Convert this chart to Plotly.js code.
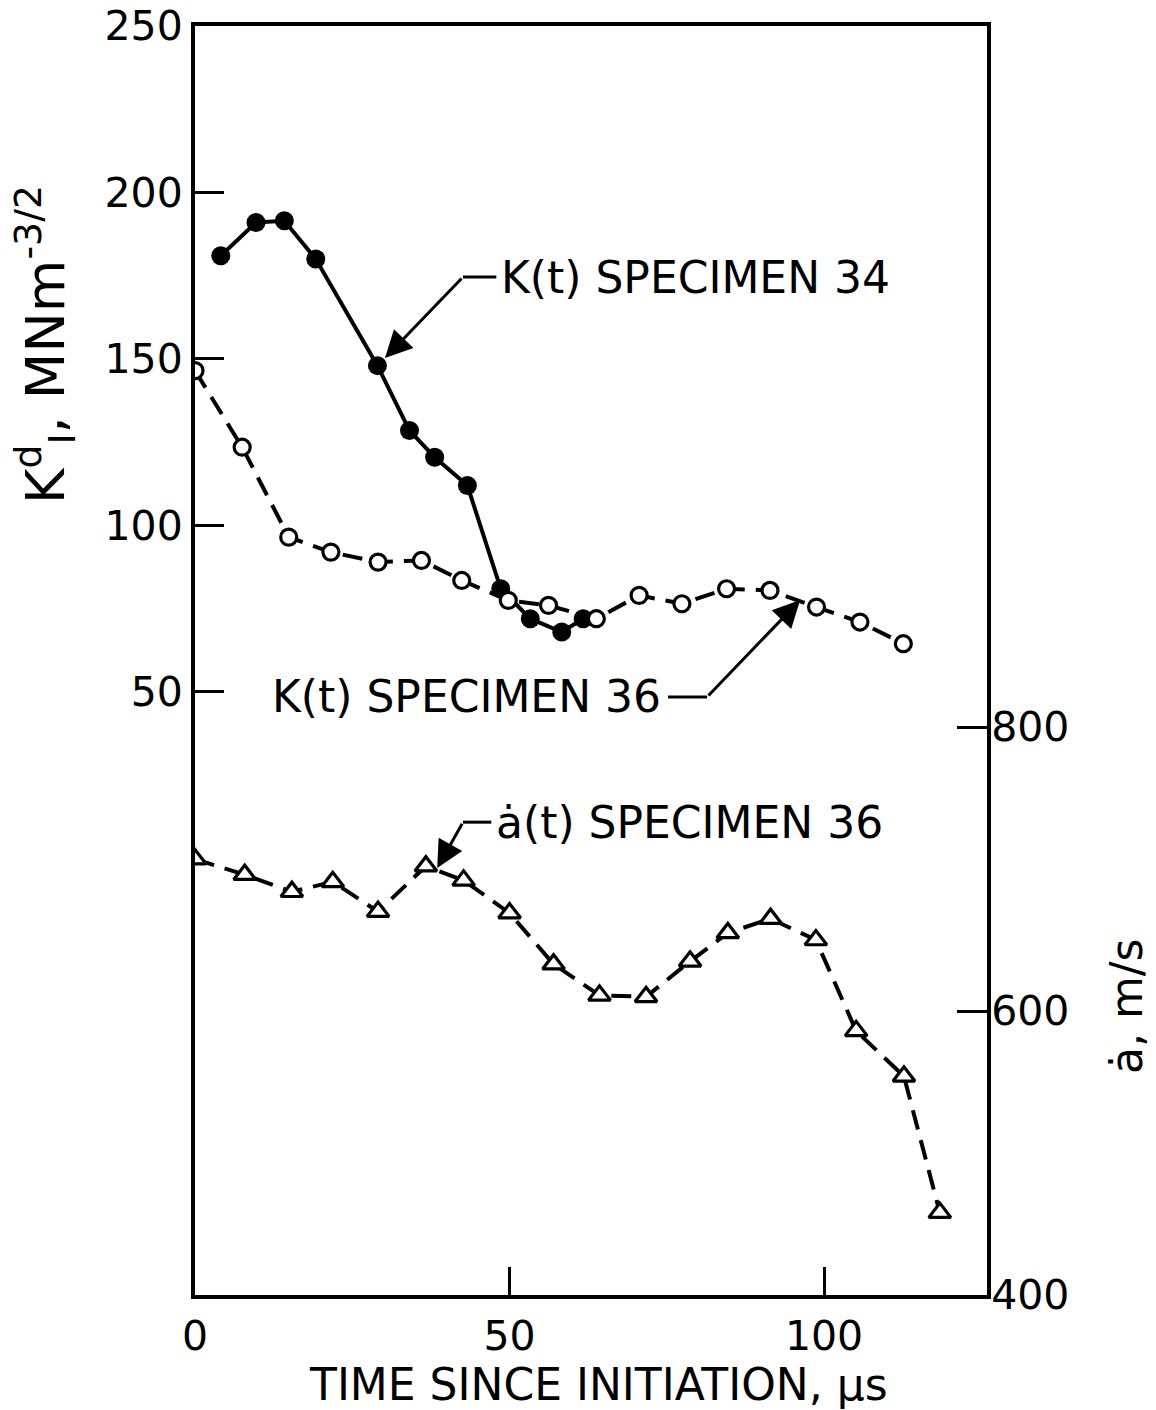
<!DOCTYPE html>
<html>
<head>
<meta charset="utf-8">
<script src="https://cdn.plot.ly/plotly-3.0.1.min.js"></script>
<style>
  html, body { margin: 0; padding: 0; background: #ffffff; }
  #chart { width: 1156px; height: 1410px; }
</style>
</head>
<body>
<div id="chart"></div>
<script>
// ---- data ----
// K(t) specimen 34 (filled circles, solid line), MN m^-3/2
const tK34 = [4.1, 9.7, 14.2, 19.2, 29.0, 34.1, 38.1, 43.3, 48.6, 53.3, 58.3, 61.7];
const kK34 = [181, 191, 191.5, 180, 148, 128.5, 120.5, 112, 81, 72, 68, 72];

// K(t) specimen 36 (open circles, dashed line), MN m^-3/2
const tK36 = [0, 7.5, 14.9, 21.6, 29.1, 36.0, 42.4, 49.8, 56.2, 63.8, 70.6, 77.4, 84.5, 91.4, 98.8, 105.7, 112.6];
const kK36 = [146.5, 123.5, 96.5, 92, 89, 89.5, 83.5, 77.5, 76, 72, 79, 76.5, 81, 80.5, 75.5, 71, 64.5];

// crack speed a-dot(t) specimen 36 (open triangles, dashed line), m/s
const tAdot = [0, 7.9, 15.4, 21.9, 29.1, 36.7, 42.7, 50.0, 57.0, 64.3, 71.7, 78.7, 84.7, 91.5, 98.7, 105.1, 112.7, 118.4];
const vAdot = [707, 696, 684, 691, 670, 702, 692, 669, 633, 611, 610, 635, 655, 665, 650, 586, 554, 458];

// tick labels
const xTicks = [0, 50, 100];
const kTicks = [50, 100, 150, 200, 250];
const vTicks = [400, 600, 800];

// labels
const labelK34 = 'K(t) SPECIMEN 34';
const labelK36 = 'K(t) SPECIMEN 36';
const labelAdot = '\u0227(t) SPECIMEN 36';
const xTitle = 'TIME SINCE INITIATION, \u03bcs';
const yTitle = 'K<sup>d</sup><sub>I</sub>, MNm<sup>-3/2</sup>';
const y2Title = '\u0227, m/s';

// ---- traces ----
const traces = [
  {
    x: tK34, y: kK34, type: 'scatter', mode: 'lines+markers', yaxis: 'y',
    line: {color: '#000', width: 4},
    marker: {symbol: 'circle', size: 19, color: '#000'},
    hoverinfo: 'skip'
  },
  {
    x: tK36, y: kK36, type: 'scatter', mode: 'lines+markers', yaxis: 'y',
    line: {color: '#000', width: 4, dash: '20px,11px'},
    marker: {symbol: 'circle', size: 16, color: '#fff', line: {color: '#000', width: 3.2}},
    hoverinfo: 'skip'
  },
  {
    x: tAdot, y: vAdot, type: 'scatter', mode: 'lines+markers', yaxis: 'y2',
    line: {color: '#000', width: 4, dash: '20px,11px'},
    marker: {symbol: 'triangle-up', size: 19, color: '#fff', line: {color: '#000', width: 3.2}},
    hoverinfo: 'skip'
  }
];

const fontFam = 'DejaVu Sans';
const annFont = {family: fontFam, size: 44, color: '#000'};
const tickFont = {family: fontFam, size: 41, color: '#000'};
const arrowStyle = {arrowhead: 2, arrowsize: 1.8, arrowwidth: 3, arrowcolor: '#000', standoff: 0, startstandoff: 0, text: '', showarrow: true};

const layout = {
  width: 1156, height: 1410,
  margin: {l: 195, r: 169, t: 26, b: 115, pad: 0},
  paper_bgcolor: '#fff', plot_bgcolor: '#fff',
  showlegend: false,
  font: {family: fontFam, size: 41, color: '#000'},
  xaxis: {
    range: [0, 125.9], tickvals: xTicks, ticktext: xTicks.map(String),
    ticks: 'inside', ticklen: 28, tickwidth: 3, tickcolor: '#000',
    showline: true, linewidth: 4, linecolor: '#000', mirror: true,
    showgrid: false, zeroline: false,
    ticklabelstandoff: 2, ticklabeloverflow: 'allow',
    tickfont: tickFont
  },
  yaxis: {
    range: [-131.1, 250], tickvals: kTicks, ticktext: kTicks.map(String),
    ticks: 'inside', ticklen: 29, tickwidth: 3, tickcolor: '#000',
    showline: true, linewidth: 4, linecolor: '#000', mirror: true,
    showgrid: false, zeroline: false,
    ticklabelstandoff: 0, ticklabeloverflow: 'allow',
    tickfont: tickFont
  },
  yaxis2: {
    range: [400, 1293.7], tickvals: vTicks, ticktext: vTicks.map(String),
    overlaying: 'y', side: 'right', anchor: 'x',
    ticks: 'inside', ticklen: 30, tickwidth: 3, tickcolor: '#000',
    showline: true, linewidth: 4, linecolor: '#000',
    showgrid: false, zeroline: false,
    ticklabelstandoff: -8, ticklabeloverflow: 'allow',
    tickfont: tickFont
  },
  shapes: [
    {type: 'line', xref: 'x', yref: 'y', x0: 42.6, x1: 47.9, y0: 174.6, y1: 174.6, line: {color: '#000', width: 3}},
    {type: 'line', xref: 'x', yref: 'y', x0: 75.2, x1: 81.4, y0: 48.5, y1: 48.5, line: {color: '#000', width: 3}},
    {type: 'line', xref: 'x', yref: 'y2', x0: 42.6, x1: 47.1, y0: 733, y1: 733, line: {color: '#000', width: 3}}
  ],
  annotations: [
    // labels
    {xref: 'x', yref: 'y', x: 48.3, y: 174.6, text: labelK34, showarrow: false, xanchor: 'left', yanchor: 'middle', font: annFont},
    {xref: 'x', yref: 'y', x: 74.4, y: 48.5, text: labelK36, showarrow: false, xanchor: 'right', yanchor: 'middle', font: annFont},
    {xref: 'x', yref: 'y2', x: 47.6, y: 733, text: labelAdot, showarrow: false, xanchor: 'left', yanchor: 'middle', font: annFont},
    // leader arrows
    Object.assign({xref: 'x', yref: 'y', axref: 'x', ayref: 'y', x: 30.2, y: 150.3, ax: 42.6, ay: 174.6}, arrowStyle),
    Object.assign({xref: 'x', yref: 'y', axref: 'x', ayref: 'y', x: 96.2, y: 77.6, ax: 81.4, ay: 48.5}, arrowStyle),
    Object.assign({xref: 'x', yref: 'y2', axref: 'x', ayref: 'y2', x: 38.5, y: 700.7, ax: 42.6, ay: 733}, arrowStyle),
    // axis titles
    {xref: 'paper', yref: 'paper', x: 0.51, y: -0.0705, text: xTitle, showarrow: false,
     xanchor: 'center', yanchor: 'middle', font: {family: fontFam, size: 44, color: '#000'}},
    {xref: 'paper', yref: 'paper', x: -0.19, y: 0.749, text: yTitle, showarrow: false, textangle: -90,
     xanchor: 'center', yanchor: 'middle', font: {family: fontFam, size: 54, color: '#000'}},
    {xref: 'paper', yref: 'paper', x: 1.176, y: 0.228, text: y2Title, showarrow: false, textangle: -90,
     xanchor: 'center', yanchor: 'middle', font: {family: fontFam, size: 44, color: '#000'}}
  ]
};

Plotly.newPlot('chart', traces, layout, {displayModeBar: false, staticPlot: true});
</script>
</body>
</html>
